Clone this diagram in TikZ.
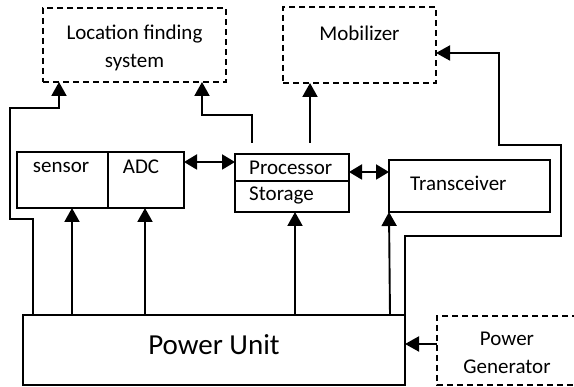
\documentclass[tikz,border=0pt]{standalone}
\usepackage{fontspec}
\setmainfont{Carlito}
\usetikzlibrary{arrows.meta,calc}
\tikzset{
  box/.style={draw,line width=1.9pt,outer sep=0pt,inner sep=0pt},
  dbox/.style={draw,line width=1.6pt,dash pattern=on 6pt off 4pt,outer sep=0pt,inner sep=0pt},
  txt/.style={inner sep=0pt,font=\fontsize{21}{28}\selectfont,align=center},
  big/.style={inner sep=0pt,font=\fontsize{29}{34}\selectfont},
  arr/.style={line width=1.9pt,-{Triangle[length=14pt,width=15pt]}},
  darr/.style={line width=1.9pt,{Triangle[length=13pt,width=15pt]}-{Triangle[length=13pt,width=15pt]}}
}
\begin{document}
\begin{tikzpicture}[x=1pt,y=-1pt]
\useasboundingbox (0,0) rectangle (574,387);
% boxes
\node[dbox,minimum width=183pt,minimum height=74pt] (loc) at (134.5,45) {};
\node[txt] (loctext) at (134.5,48) {Location finding\\system};
\node[dbox,minimum width=153pt,minimum height=76pt] (mob) at (359.5,45) {};
\node[txt] (mobtext) at (359.5,33) {Mobilizer};
\node[box,minimum width=91pt,minimum height=56pt] (sensor) at (62.5,180) {};
\node[txt] (sensortext) at (61,167) {sensor};
\node[box,minimum width=76pt,minimum height=56pt] (adc) at (146,180) {};
\node[txt] (adctext) at (141,167) {ADC};
\node[box,minimum width=114pt,minimum height=27pt] (proc) at (292,167.5) {};
\node[txt,anchor=west] (proctext) at (249,168) {Processor};
\node[box,minimum width=114pt,minimum height=31pt] (stor) at (292,196.5) {};
\node[txt,anchor=west] (stortext) at (249,195) {Storage};
\node[box,minimum width=161pt,minimum height=52pt] (trans) at (469.5,186) {};
\node[txt,anchor=west] (transtext) at (410,183) {Transceiver};
\node[box,minimum width=382pt,minimum height=70pt] (pu) at (214,350) {};
\node[big] (putext) at (214,345) {Power Unit};
\node[minimum width=141pt,minimum height=69pt,inner sep=0pt,outer sep=0pt] (gen) at (507.5,350.5) {};
\node[txt] (gentext) at (507,353) {Power\\Generator};
\draw[line width=1.6pt,dash pattern=on 6pt off 4pt] (gen.north east) -- (gen.north west) -- (gen.south west) -- (gen.south east);
% connectors
\draw[arr] (pu.north -| 33,0) -- (33,219) -- (10,219) -- (10,108) -- (59,108) -- (loc.south -| 59,0);
\draw[arr,shorten <=11pt] (proc.north -| 252,0) -- (252,115) -- (202,115) -- (loc.south -| 202,0);
\draw[arr,shorten <=11pt] (proc.north -| 310,0) -- (mob.south -| 310,0);
\draw[arr] (pu.north east) -- (405,236) -- (561,236) -- (561,145) -- (499,145) -- (499,53) -- (mob.east |- 0,53);
\draw[arr] (pu.north -| 72,0) -- (sensor.south -| 72,0);
\draw[arr] (pu.north -| 145,0) -- (adc.south -| 145,0);
\draw[arr] (pu.north -| 295,0) -- (stor.south -| 295,0);
\draw[arr] (pu.north -| 390,0) -- (trans.south west);
\draw[darr] (adc.east |- 0,162) -- (proc.west |- 0,162);
\draw[darr] (proc.east |- 0,172) -- (trans.west |- 0,172);
\draw[arr] (gen.west |- 0,344) -- (pu.east |- 0,344);
\end{tikzpicture}
\end{document}
